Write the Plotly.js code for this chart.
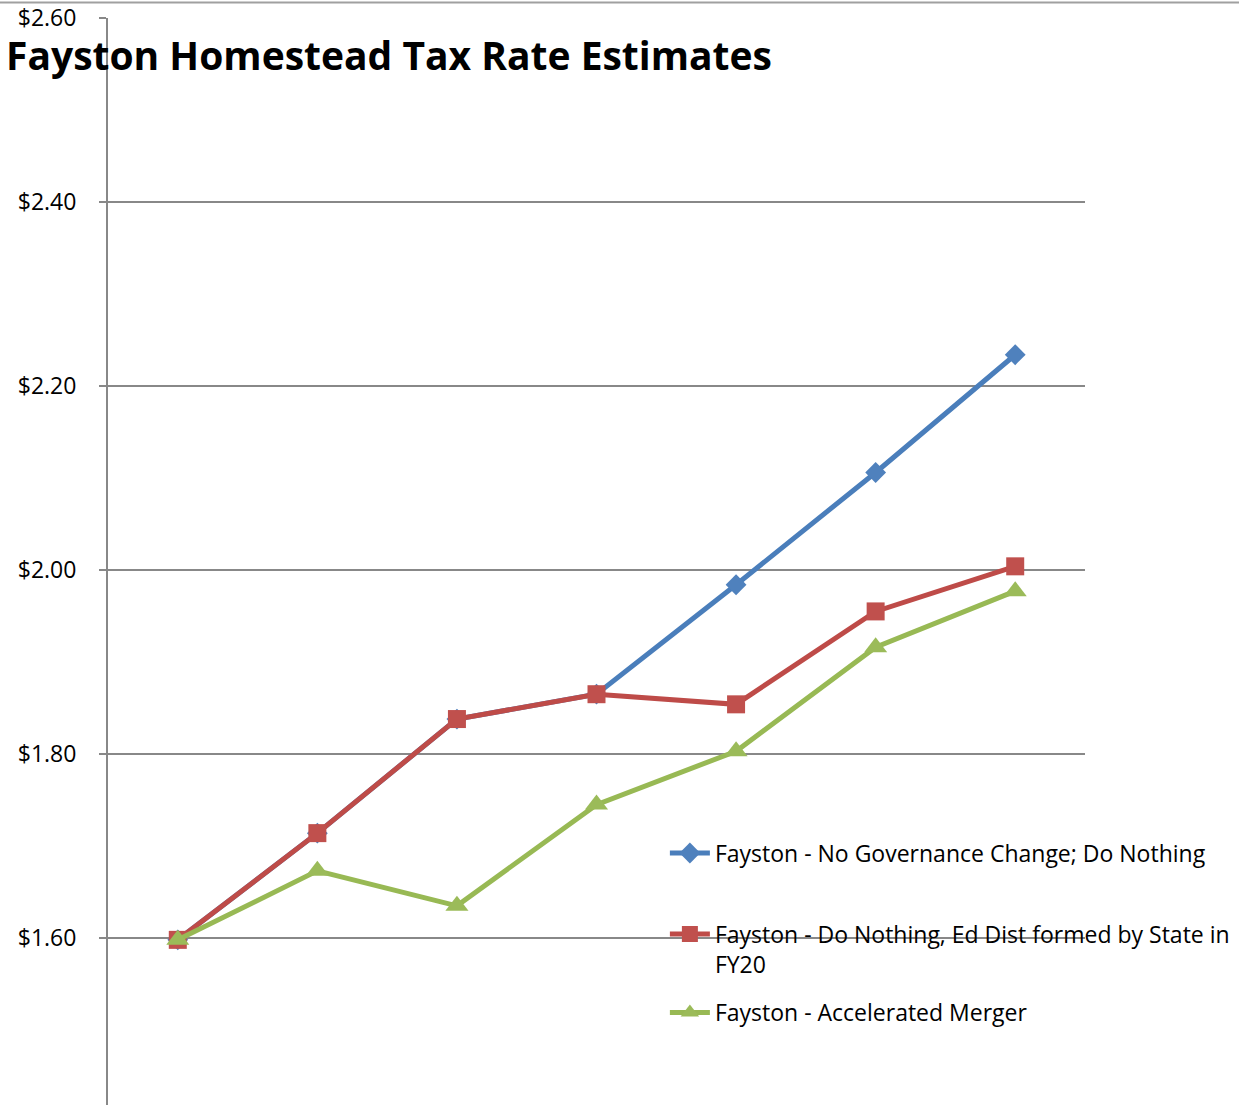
<!DOCTYPE html>
<html>
<head>
<meta charset="utf-8">
<script src="https://cdn.plot.ly/plotly-3.0.1.min.js"></script>
<style>html,body{margin:0;padding:0;background:#fff;}#chart{width:1239px;height:1105px;}</style>
</head>
<body>
<div id="chart"></div>
<script>
const categories = ["FY17", "FY18", "FY19", "FY20", "FY21", "FY22", "FY23"];
const noChange = [1.598, 1.714, 1.838, 1.865, 1.984, 2.106, 2.234];
const doNothingState = [1.598, 1.714, 1.838, 1.865, 1.854, 1.955, 2.004];
const accelerated = [1.598, 1.673, 1.635, 1.745, 1.803, 1.916, 1.977];
const seriesNames = [
  "Fayston - No Governance Change; Do Nothing",
  "Fayston - Do Nothing, Ed Dist formed by State in<br>FY20",
  "Fayston - Accelerated Merger"
];
const yTickVals = [1.60, 1.80, 2.00, 2.20, 2.40, 2.60];
const yTickText = ["$1.60", "$1.80", "$2.00", "$2.20", "$2.40", "$2.60"];
const titleText = "Fayston Homestead Tax Rate Estimates";

const FONT = "Open Sans, Noto Sans, sans-serif";
const traces = [
  {x: categories, y: noChange, name: seriesNames[0], type: "scatter", mode: "lines+markers",
   line: {color: "#4A7EBB", width: 5}, marker: {symbol: "diamond", size: 16, color: "#4F81BD"}, legend: "legend"},
  {x: categories, y: doNothingState, name: seriesNames[1], type: "scatter", mode: "lines+markers",
   line: {color: "#BE4B48", width: 5}, marker: {symbol: "square", size: 18, color: "#C0504D"}, legend: "legend2"},
  {x: categories, y: accelerated, name: seriesNames[2], type: "scatter", mode: "lines+markers",
   line: {color: "#98B954", width: 5}, marker: {symbol: "triangle-up", size: 20, color: "#9BBB59"}, legend: "legend3"}
];
const legBase = {xanchor: "left", yanchor: "middle", bgcolor: "rgba(0,0,0,0)", borderwidth: 0,
  font: {family: FONT, size: 23, color: "#000"}, itemwidth: 40};
const layout = {
  width: 1239, height: 1105,
  margin: {l: 108, r: 154, t: 18, b: 0, pad: 0},
  paper_bgcolor: "#fff", plot_bgcolor: "rgba(0,0,0,0)",
  font: {family: FONT, color: "#000"},
  title: {text: "<b>" + titleText + "</b>", x: 6/1239, xanchor: "left", xref: "container",
          y: 1 - 56/1105, yanchor: "middle", yref: "container",
          font: {family: FONT, size: 39, color: "#000"}},
  showlegend: true,
  legend: Object.assign({}, legBase, {x: 0.57, y: 0.2318}),
  legend2: Object.assign({}, legBase, {x: 0.57, y: 0.1435, valign: "top"}),
  legend3: Object.assign({}, legBase, {x: 0.57, y: 0.0851}),
  xaxis: {type: "category", range: [-0.5, 6.5], showticklabels: false, showgrid: false,
          zeroline: false, showline: false, ticks: ""},
  yaxis: {range: [1.4185, 2.60], tickvals: yTickVals, ticktext: yTickText,
          showgrid: true, gridcolor: "#888888", gridwidth: 1.5, zeroline: false,
          showline: true, linecolor: "#888888", linewidth: 2,
          ticks: "outside", ticklen: 7, tickcolor: "#888888", tickwidth: 1.5,
          ticklabelstandoff: 18,
          tickfont: {family: FONT, size: 23, color: "#000"}},
  shapes: [{type: "line", xref: "paper", yref: "paper", x0: -108/977, x1: 1131/977,
            y0: (1105-2.5)/1087, y1: (1105-2.5)/1087, line: {color: "#a0a0a0", width: 2}}]
};
Plotly.newPlot("chart", traces, layout, {displayModeBar: false, staticPlot: true});
</script>
</body>
</html>
